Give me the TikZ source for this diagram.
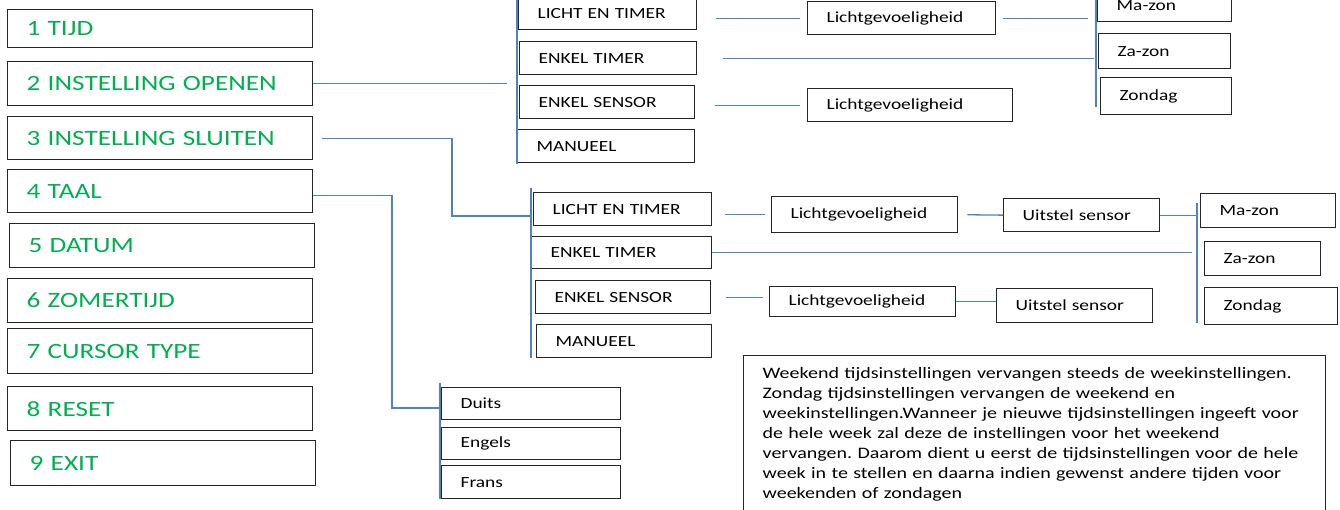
\documentclass[tikz,border=0pt]{standalone}
\usepackage{fontspec}
\setmainfont{Carlito}[FakeStretch=1.25]
\usepackage{xcolor}
\usepackage{tikz}
\usetikzlibrary{positioning}
\definecolor{menugreen}{RGB}{0,176,80}
\definecolor{linkblue}{RGB}{79,129,198}
\frenchspacing
\tikzset{
    box/.style={rectangle, draw=black!85, line width=1.3pt, anchor=north west, align=left, inner xsep=19pt, inner ysep=0pt},
    menubox/.style={box, text width=267pt, text=menugreen, font=\fontsize{21.8}{24}\selectfont},
    optbox/.style={box, text width=#1, font=\fontsize{15.5}{18}\selectfont},
    notebox/.style={box, text width=544pt, inner ysep=12pt, font=\fontsize{16}{20}\selectfont},
    link/.style={draw=linkblue, line width=1.3pt},
}

\begin{document}
\begin{tikzpicture}[x=1pt, y=-1pt]

    \useasboundingbox (0,0) rectangle (1340,509);

    % Menu
    \node[menubox, minimum height=38pt] (tijd) at (7,9) {1 TIJD};
    \node[menubox, minimum height=44pt] (openen) at (7,61) {2 INSTELLING OPENEN};
    \node[menubox, minimum height=43pt] (sluiten) at (7,116) {3 INSTELLING SLUITEN};
    \node[menubox, minimum height=43pt] (taal) at (7,169) {4 TAAL};
    \node[menubox, minimum height=44pt] (datum) at (9,223) {5 DATUM};
    \node[menubox, minimum height=44pt] (zomertijd) at (7,278) {6 ZOMERTIJD};
    \node[menubox, minimum height=45pt] (cursor) at (7,328) {7 CURSOR TYPE};
    \node[menubox, minimum height=44pt] (reset) at (7,386) {8 RESET};
    \node[menubox, minimum height=45pt] (exit) at (10,440) {9 EXIT};

    % Openen
    \node[optbox=140pt, minimum height=33pt] (oLicht) at (518,-4) {LICHT EN TIMER};
    \node[optbox=139pt, minimum height=33pt] (oTimer) at (519,41) {ENKEL TIMER};
    \node[optbox=137pt, minimum height=33pt] (oSensor) at (519,85) {ENKEL SENSOR};
    \node[optbox=139pt, minimum height=33pt] (oManueel) at (517,129) {MANUEEL};
    \node[optbox=150pt, minimum height=33pt] (oLichtA) at (807,1) {Lichtgevoeligheid};
    \node[optbox=167pt, minimum height=33pt] (oLichtB) at (807,88) {Lichtgevoeligheid};
    \node[optbox=96pt, minimum height=33pt] (oMaZon) at (1097,-12) {Ma-zon};
    \node[optbox=94pt, minimum height=35pt] (oZaZon) at (1098,33) {Za-zon};
    \node[optbox=93pt, minimum height=37pt] (oZondag) at (1100,77) {Zondag};

    % Sluiten
    \node[optbox=140pt, minimum height=33pt] (cLicht) at (533,192) {LICHT EN TIMER};
    \node[optbox=142pt, minimum height=32pt] (cTimer) at (531,236) {ENKEL TIMER};
    \node[optbox=137pt, minimum height=33pt] (cSensor) at (535,280) {ENKEL SENSOR};
    \node[optbox=137pt, minimum height=33pt] (cManueel) at (536,324) {MANUEEL};
    \node[optbox=148pt, minimum height=36pt] (cLichtA) at (771,196) {Lichtgevoeligheid};
    \node[optbox=118pt, minimum height=33pt] (cUitstelA) at (1003,198) {Uitstel sensor};
    \node[optbox=148pt, minimum height=30pt] (cLichtB) at (769,286) {Lichtgevoeligheid};
    \node[optbox=118pt, minimum height=34pt] (cUitstelB) at (996,288) {Uitstel sensor};
    \node[optbox=97pt, minimum height=34pt] (cMaZon) at (1200,193) {Ma-zon};
    \node[optbox=78pt, minimum height=34pt] (cZaZon) at (1204,241) {Za-zon};
    \node[optbox=95pt, minimum height=37pt] (cZondag) at (1204,287) {Zondag};

    % Taal
    \node[optbox=141pt, minimum height=32pt] (duits) at (441,387) {Duits};
    \node[optbox=141pt, minimum height=32pt] (engels) at (441,427) {Engels};
    \node[optbox=141pt, minimum height=33pt] (frans) at (441,465) {Frans};

    % Note
    \node[notebox] (note) at (743,355) {Weekend tijdsinstellingen vervangen steeds de weekinstellingen.\\
        Zondag tijdsinstellingen vervangen de weekend en\\
        weekinstellingen.Wanneer je nieuwe tijdsinstellingen ingeeft voor\\
        de hele week zal deze de instellingen voor het weekend\\
        vervangen. Daarom dient u eerst de tijdsinstellingen voor de hele\\
        week in te stellen en daarna indien gewenst andere tijden voor\\
        weekenden of zondagen};

    % Bars
    \coordinate (obTop) at (517,0);
    \coordinate (obBot) at (517,164);
    \coordinate (odTop) at (1096,0);
    \coordinate (odBot) at (1096,107);
    \coordinate (cbTop) at (531,188);
    \coordinate (cbBot) at (531,358);
    \coordinate (cdTop) at (1197,203);
    \coordinate (cdBot) at (1197,323);
    \coordinate (lbTop) at (440,383);
    \coordinate (lbBot) at (440,499);
    \coordinate (kSluiten) at (452,216);
    \coordinate (kTaal) at (392,408);
    \draw[link] (obTop) -- (obBot);
    \draw[link] (odTop) -- (odBot);
    \draw[link] (cbTop) -- (cbBot);
    \draw[link] (cdTop) -- (cdBot);
    \draw[link] (lbTop) -- (lbBot);

    % Lines
    \draw[link, shorten >=10pt] (openen.east) -- (openen.east -| obTop);
    \draw[link, shorten <=9pt] (sluiten.east) -| (kSluiten) -- (kSluiten -| cbTop);
    \draw[link] ([yshift=-4pt]taal.east) -| (kTaal) -- (kTaal -| lbTop);

    \draw[link, shorten <=19pt, shorten >=7pt] (oLicht.east |- oLichtA.west) -- (oLichtA.west);
    \draw[link, shorten <=7pt, shorten >=8pt] (oLichtA.east) -- (oLichtA.east -| odTop);
    \draw[link, shorten <=26pt, shorten >=2pt] (oTimer.east) -- (oTimer.east -| odTop);
    \draw[link, shorten <=20pt, shorten >=7pt] (oSensor.east |- oLichtB.west) -- (oLichtB.west);

    \draw[link, shorten <=13pt, shorten >=6pt] (cLicht.east |- cLichtA.west) -- (cLichtA.west);
    \draw[link, shorten <=9pt] (cLichtA.east) -- (cUitstelA.west);
    \draw[link] (cUitstelA.east) -- (cUitstelA.east -| cdTop);
    \draw[link, shorten >=5pt] (cTimer.east) -- (cTimer.east -| cdTop);
    \draw[link, shorten <=15pt, shorten >=6pt] (cSensor.east) -- (cSensor.east -| cLichtB.west);
    \draw[link] (cLichtB.east) -- (cLichtB.east -| cUitstelB.west);

\end{tikzpicture}
\end{document}
